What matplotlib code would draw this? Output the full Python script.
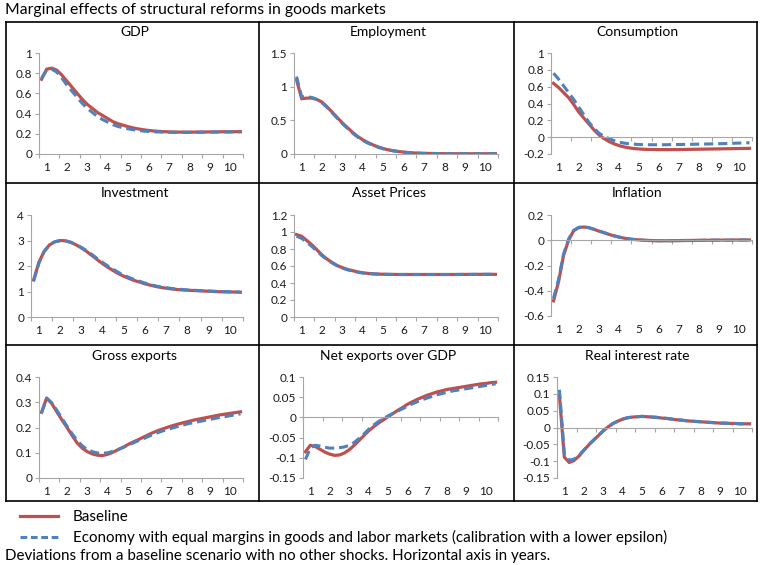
import numpy as np
import matplotlib.pyplot as plt
from matplotlib.lines import Line2D

plt.rcParams['font.family'] = ['Lato', 'DejaVu Sans']
plt.rcParams['axes.unicode_minus'] = False

# quarterly observations, horizontal axis in years
years = (np.arange(40) + 0.5) / 4
year_labels = [str(k) for k in range(1, 11)]

titles = ["GDP", "Employment", "Consumption",
          "Investment", "Asset Prices", "Inflation",
          "Gross exports", "Net exports over GDP", "Real interest rate"]

gdp_base = [0.74, 0.84, 0.85, 0.83, 0.78, 0.72, 0.66, 0.60, 0.54, 0.49,
            0.45, 0.41, 0.38, 0.35, 0.32, 0.30, 0.285, 0.27, 0.258, 0.248,
            0.24, 0.233, 0.228, 0.224, 0.221, 0.219, 0.218, 0.217, 0.217, 0.217,
            0.217, 0.218, 0.218, 0.219, 0.219, 0.22, 0.22, 0.22, 0.221, 0.221]
gdp_alt = [0.75, 0.83, 0.84, 0.81, 0.75, 0.68, 0.62, 0.56, 0.50, 0.45,
           0.41, 0.37, 0.34, 0.315, 0.29, 0.272, 0.26, 0.249, 0.24, 0.233,
           0.227, 0.223, 0.22, 0.218, 0.216, 0.215, 0.214, 0.214, 0.214, 0.214,
           0.215, 0.215, 0.216, 0.216, 0.217, 0.217, 0.218, 0.218, 0.219, 0.219]

emp_base = [1.10, 0.82, 0.83, 0.83, 0.81, 0.77, 0.70, 0.62, 0.54, 0.46,
            0.39, 0.32, 0.26, 0.21, 0.17, 0.135, 0.105, 0.08, 0.062, 0.048,
            0.037, 0.028, 0.021, 0.016, 0.012, 0.01, 0.008, 0.007, 0.006, 0.005,
            0.005, 0.004, 0.004, 0.004, 0.004, 0.004, 0.004, 0.004, 0.004, 0.004]
emp_alt = [1.15, 0.85, 0.85, 0.84, 0.81, 0.76, 0.69, 0.61, 0.53, 0.45,
           0.38, 0.31, 0.25, 0.20, 0.16, 0.13, 0.10, 0.078, 0.06, 0.046,
           0.035, 0.027, 0.02, 0.015, 0.012, 0.009, 0.008, 0.007, 0.006, 0.005,
           0.005, 0.004, 0.004, 0.004, 0.004, 0.004, 0.004, 0.004, 0.004, 0.004]

cons_base = [0.64, 0.59, 0.53, 0.47, 0.39, 0.30, 0.23, 0.16, 0.09, 0.03,
             -0.015, -0.05, -0.078, -0.10, -0.115, -0.127, -0.135, -0.14, -0.144, -0.146,
             -0.147, -0.148, -0.148, -0.148, -0.147, -0.147, -0.146, -0.145, -0.144, -0.143,
             -0.142, -0.141, -0.14, -0.139, -0.138, -0.137, -0.136, -0.135, -0.134, -0.133]
cons_alt = [0.76, 0.69, 0.61, 0.53, 0.45, 0.36, 0.27, 0.18, 0.11, 0.05,
            0.01, -0.015, -0.04, -0.058, -0.07, -0.078, -0.083, -0.087, -0.089, -0.09,
            -0.09, -0.09, -0.09, -0.089, -0.088, -0.087, -0.086, -0.085, -0.084, -0.083,
            -0.082, -0.081, -0.079, -0.078, -0.076, -0.074, -0.072, -0.07, -0.068, -0.066]

inv_base = [1.45, 2.15, 2.58, 2.83, 2.95, 3.0, 2.99, 2.93, 2.83, 2.71,
            2.57, 2.41, 2.25, 2.09, 1.95, 1.82, 1.70, 1.60, 1.51, 1.43,
            1.37, 1.30, 1.25, 1.20, 1.16, 1.13, 1.10, 1.08, 1.06, 1.05,
            1.04, 1.03, 1.02, 1.01, 1.0, 0.99, 0.99, 0.98, 0.98, 0.97]
inv_alt = [1.42, 2.12, 2.57, 2.83, 2.95, 2.99, 2.98, 2.93, 2.84, 2.73,
           2.60, 2.45, 2.29, 2.14, 2.00, 1.87, 1.75, 1.64, 1.55, 1.47,
           1.40, 1.33, 1.27, 1.22, 1.18, 1.15, 1.12, 1.10, 1.08, 1.06,
           1.05, 1.04, 1.03, 1.02, 1.01, 1.0, 0.99, 0.99, 0.98, 0.98]

asset_base = [0.97, 0.95, 0.90, 0.85, 0.79, 0.73, 0.68, 0.64, 0.605, 0.58,
              0.56, 0.545, 0.53, 0.52, 0.513, 0.508, 0.505, 0.503, 0.502, 0.501,
              0.50, 0.50, 0.50, 0.50, 0.50, 0.50, 0.50, 0.50, 0.50, 0.50,
              0.50, 0.50, 0.501, 0.501, 0.501, 0.502, 0.502, 0.502, 0.502, 0.502]
asset_alt = [0.95, 0.925, 0.88, 0.83, 0.775, 0.72, 0.675, 0.635, 0.60, 0.575,
             0.555, 0.54, 0.528, 0.518, 0.512, 0.507, 0.504, 0.502, 0.501, 0.50,
             0.50, 0.50, 0.50, 0.50, 0.50, 0.50, 0.50, 0.50, 0.50, 0.50,
             0.50, 0.50, 0.50, 0.501, 0.501, 0.501, 0.501, 0.502, 0.502, 0.502]

infl_base = [-0.48, -0.33, -0.12, 0.0, 0.075, 0.10, 0.105, 0.10, 0.087, 0.073,
             0.06, 0.047, 0.035, 0.025, 0.017, 0.01, 0.006, 0.003, 0.0, -0.002,
             -0.003, -0.004, -0.004, -0.004, -0.003, -0.003, -0.002, -0.002, -0.001, -0.001,
             0.0, 0.0, 0.001, 0.001, 0.001, 0.001, 0.002, 0.002, 0.002, 0.002]
infl_alt = [-0.46, -0.31, -0.11, 0.01, 0.078, 0.102, 0.106, 0.10, 0.088, 0.074,
            0.061, 0.048, 0.036, 0.026, 0.018, 0.011, 0.006, 0.003, 0.0, -0.002,
            -0.003, -0.004, -0.004, -0.004, -0.003, -0.003, -0.002, -0.002, -0.001, -0.001,
            0.0, 0.0, 0.001, 0.001, 0.001, 0.001, 0.002, 0.002, 0.002, 0.002]

gx_base = [0.26, 0.317, 0.295, 0.262, 0.23, 0.20, 0.168, 0.138, 0.118, 0.104,
           0.095, 0.09, 0.089, 0.094, 0.102, 0.112, 0.122, 0.133, 0.143, 0.152,
           0.162, 0.172, 0.181, 0.189, 0.196, 0.203, 0.209, 0.215, 0.22, 0.225,
           0.23, 0.234, 0.238, 0.242, 0.246, 0.25, 0.253, 0.256, 0.259, 0.262]
gx_alt = [0.258, 0.315, 0.298, 0.268, 0.236, 0.205, 0.175, 0.148, 0.127, 0.113,
          0.104, 0.099, 0.098, 0.1, 0.106, 0.113, 0.121, 0.13, 0.139, 0.148,
          0.156, 0.165, 0.173, 0.181, 0.188, 0.194, 0.2, 0.206, 0.211, 0.216,
          0.22, 0.224, 0.228, 0.232, 0.236, 0.24, 0.243, 0.247, 0.25, 0.254]

nx_base = [-0.085, -0.069, -0.072, -0.079, -0.086, -0.091, -0.094, -0.093, -0.088, -0.08,
           -0.069, -0.057, -0.045, -0.033, -0.023, -0.014, -0.006, 0.002, 0.01, 0.018,
           0.025, 0.033, 0.039, 0.045, 0.05, 0.055, 0.059, 0.063, 0.066, 0.069,
           0.071, 0.073, 0.075, 0.077, 0.079, 0.081, 0.083, 0.084, 0.086, 0.087]
nx_alt = [-0.104, -0.076, -0.069, -0.071, -0.074, -0.076, -0.076, -0.075, -0.073, -0.069,
          -0.062, -0.052, -0.041, -0.029, -0.019, -0.01, -0.003, 0.004, 0.01, 0.016,
          0.022, 0.028, 0.034, 0.039, 0.044, 0.048, 0.052, 0.056, 0.059, 0.062,
          0.065, 0.067, 0.069, 0.071, 0.073, 0.075, 0.077, 0.079, 0.081, 0.083]

rr_base = [0.095, -0.088, -0.104, -0.098, -0.085, -0.068, -0.052, -0.038, -0.024, -0.01,
           0.002, 0.012, 0.019, 0.025, 0.029, 0.031, 0.032, 0.033, 0.032, 0.031,
           0.03, 0.028, 0.027, 0.025, 0.023, 0.022, 0.02, 0.019, 0.018, 0.017,
           0.016, 0.015, 0.014, 0.013, 0.013, 0.012, 0.012, 0.011, 0.011, 0.011]
rr_alt = [0.112, -0.078, -0.097, -0.094, -0.083, -0.067, -0.051, -0.037, -0.023, -0.009,
          0.002, 0.012, 0.019, 0.025, 0.029, 0.031, 0.032, 0.033, 0.032, 0.031,
          0.03, 0.028, 0.027, 0.025, 0.023, 0.022, 0.02, 0.019, 0.018, 0.017,
          0.016, 0.015, 0.014, 0.013, 0.013, 0.012, 0.012, 0.011, 0.011, 0.011]

y_ticks = [[0, 0.2, 0.4, 0.6, 0.8, 1],
           [0, 0.5, 1, 1.5],
           [-0.2, 0, 0.2, 0.4, 0.6, 0.8, 1],
           [0, 1, 2, 3, 4],
           [0, 0.2, 0.4, 0.6, 0.8, 1, 1.2],
           [-0.6, -0.4, -0.2, 0, 0.2],
           [0, 0.1, 0.2, 0.3, 0.4],
           [-0.15, -0.1, -0.05, 0, 0.05, 0.1],
           [-0.15, -0.1, -0.05, 0, 0.05, 0.1, 0.15]]

baseline = [gdp_base, emp_base, cons_base, inv_base, asset_base, infl_base, gx_base, nx_base, rr_base]
alternative = [gdp_alt, emp_alt, cons_alt, inv_alt, asset_alt, infl_alt, gx_alt, nx_alt, rr_alt]

legend_labels = ["Baseline",
                 "Economy with equal margins in goods and labor markets (calibration with a lower epsilon)"]

RED = '#C0504D'
BLUE = '#4F81BD'
AXIS = '#A6A6A6'
W, H = 760, 565

# plot areas in pixels: left, right, top, bottom
axes_px = [(39, 243, 53, 154), (294, 498, 53, 154), (551, 752, 53, 154),
           (31, 243, 215, 317), (294, 498, 215, 317), (551, 752, 215, 316),
           (39, 243, 377, 478), (303, 498, 377, 478), (557, 752, 377, 478)]
col_edges = [6, 259, 514, 757]
row_edges = [22, 183, 345, 501]
title_y = [32, 193, 356]


def fx(px):
    return px / W


def fy(py):
    return 1 - py / H


fig = plt.figure(figsize=(7.6, 5.65), dpi=100)

for i in range(9):
    r, c = divmod(i, 3)
    x0, x1, y0, y1 = axes_px[i]
    ax = fig.add_axes([fx(x0), fy(y1), fx(x1 - x0), (y1 - y0) / H])
    ax.plot(years, baseline[i], color=RED, lw=2.3)
    ax.plot(years, alternative[i], color=BLUE, lw=2.2, dashes=(3, 1.6))
    ticks = y_ticks[i]
    ax.set_xlim(0, 10)
    ax.set_ylim(ticks[0], ticks[-1])
    ax.set_yticks(ticks)
    ax.set_yticklabels([f'{t:g}' for t in ticks])
    ax.set_xticks(np.arange(11))
    ax.set_xticklabels([])
    ax.patch.set_alpha(0)
    for s in ['top', 'right']:
        ax.spines[s].set_visible(False)
    ax.spines['bottom'].set_position(('data', 0))
    for s in ['bottom', 'left']:
        ax.spines[s].set_color(AXIS)
        ax.spines[s].set_linewidth(0.8)
    ax.tick_params(axis='both', direction='out', length=3, width=0.8,
                   color=AXIS, labelsize=8.5, labelcolor='#1a1a1a', pad=2)
    sec = ax.secondary_xaxis('bottom')
    sec.set_xticks(np.arange(1, 11) - 0.63, year_labels)
    sec.tick_params(length=0, labelsize=8.5, labelcolor='#1a1a1a', pad=6)
    sec.spines['bottom'].set_visible(False)

    fig.text(fx((col_edges[c] + col_edges[c + 1]) / 2 + 2), fy(title_y[r]), titles[i],
             ha='center', va='center', fontsize=10)

# panel frames
for xe in col_edges:
    fig.add_artist(Line2D([fx(xe)] * 2, [fy(row_edges[0]), fy(row_edges[-1])],
                          color='black', lw=1.2))
for ye in row_edges:
    fig.add_artist(Line2D([fx(col_edges[0]), fx(col_edges[-1])], [fy(ye)] * 2,
                          color='black', lw=1.2))

fig.text(fx(5), fy(10), "Marginal effects of structural reforms in goods markets",
         ha='left', va='center', fontsize=11.3)

handles = [Line2D([], [], color=RED, lw=2.3),
           Line2D([], [], color=BLUE, lw=2.2, dashes=(2.2, 1.2))]
fig.legend(handles, legend_labels, loc='upper left', bbox_to_anchor=(fx(20), fy(510)),
           frameon=False, fontsize=10.9, handlelength=2.5, handletextpad=1.0,
           labelspacing=0.38, borderpad=0, borderaxespad=0)

fig.text(fx(5), fy(556), "Deviations from a baseline scenario with no other shocks. Horizontal axis in years.",
         ha='left', va='center', fontsize=10.9)

fig.savefig('out.png', dpi=100)
